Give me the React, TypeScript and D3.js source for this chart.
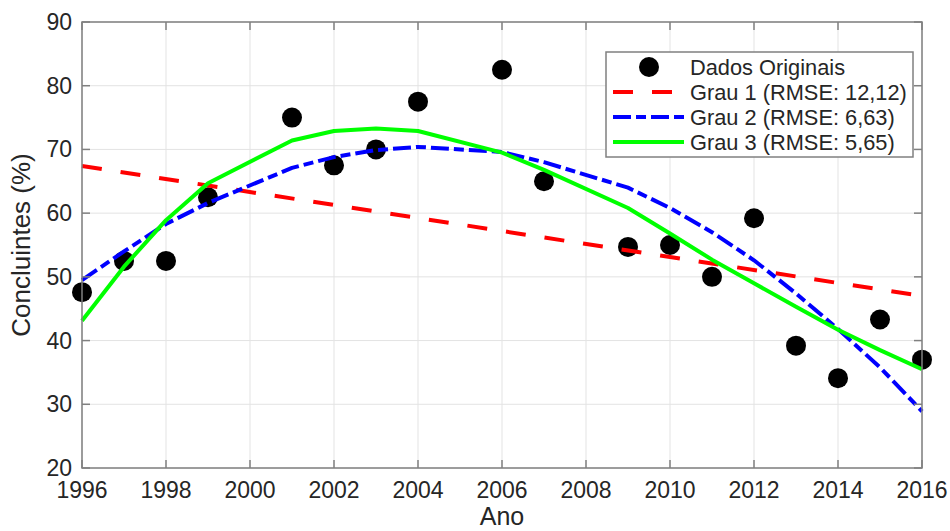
import React, { useEffect, useRef } from 'react';
import * as d3 from 'd3';

// dados
const years = [1996, 1997, 1998, 1999, 2001, 2002, 2003, 2004, 2006, 2007, 2009, 2010, 2011, 2012, 2013, 2014, 2015, 2016];
const concluintes = [47.6, 52.5, 52.5, 62.5, 75.0, 67.5, 70.0, 77.5, 82.5, 65.0, 54.7, 55.0, 50.0, 59.2, 39.2, 34.1, 43.3, 37.0];

// ajustes (valores nos anos dos dados)
const grau1Years = [1996, 2016];
const grau1 = [67.4, 47.0];
const grau2 = [49.5, 54.0, 58.3, 61.6, 67.1, 68.8, 69.9, 70.4, 69.6, 68.0, 64.0, 60.8, 57.0, 52.6, 47.4, 41.8, 35.8, 28.9];
const grau3 = [43.1, 51.6, 58.9, 64.7, 71.4, 72.9, 73.3, 72.9, 69.5, 66.8, 60.8, 56.8, 52.7, 49.0, 45.3, 41.7, 38.5, 35.5];

const legendLabels = ['Dados Originais', 'Grau 1 (RMSE: 12,12)', 'Grau 2 (RMSE: 6,63)', 'Grau 3 (RMSE: 5,65)'];
const xTicks = [1996, 1998, 2000, 2002, 2004, 2006, 2008, 2010, 2012, 2014, 2016];
const yTicks = [20, 30, 40, 50, 60, 70, 80, 90];

const width = 950;
const height = 531;
const margin = { top: 22, right: 28, bottom: 63, left: 82 };
const font = '"Liberation Sans", Arial, sans-serif';

const series = [
	{ label: legendLabels[1], xs: grau1Years, ys: grau1, color: '#ff0000', dash: '20 19' },
	{ label: legendLabels[2], xs: years, ys: grau2, color: '#0000ff', dash: '18 5 10 5' },
	{ label: legendLabels[3], xs: years, ys: grau3, color: '#00ff00', dash: null },
];

function Chart() {
	const ref = useRef<SVGSVGElement>(null);

	useEffect(() => {
		const svg = d3.select(ref.current);
		svg.selectAll('*').remove();

		const x = d3.scaleLinear().domain([1996, 2016]).range([margin.left, width - margin.right]);
		const y = d3.scaleLinear().domain([20, 90]).range([height - margin.bottom, margin.top]);
		const [x0, x1] = x.range();
		const [y0, y1] = y.range();

		// grid
		const grid = svg.append('g').attr('stroke', '#e3e3e3').attr('stroke-width', 1);
		grid.selectAll('.vg').data(xTicks).enter().append('line')
			.attr('x1', d => x(d)).attr('x2', d => x(d)).attr('y1', y0).attr('y2', y1);
		grid.selectAll('.hg').data(yTicks).enter().append('line')
			.attr('y1', d => y(d)).attr('y2', d => y(d)).attr('x1', x0).attr('x2', x1);

		// pontos
		svg.append('g').selectAll('circle').data(years).enter().append('circle')
			.attr('cx', d => x(d))
			.attr('cy', (d, i) => y(concluintes[i]))
			.attr('r', 10)
			.attr('fill', '#000');

		// curvas
		const line = d3.line<[number, number]>().x(d => x(d[0])).y(d => y(d[1]));
		series.forEach(s => {
			svg.append('path')
				.attr('d', line(s.xs.map((v, i) => [v, s.ys[i]] as [number, number])))
				.attr('fill', 'none')
				.attr('stroke', s.color)
				.attr('stroke-width', 4)
				.attr('stroke-dasharray', s.dash)
				.attr('stroke-linejoin', 'round');
		});

		// eixos (caixa + ticks para dentro)
		const axisColor = '#808080';
		const ax = svg.append('g').attr('stroke', axisColor).attr('stroke-width', 1.5);
		ax.append('rect').attr('x', x0).attr('y', y1).attr('width', x1 - x0).attr('height', y0 - y1).attr('fill', 'none');
		xTicks.forEach(t => {
			ax.append('line').attr('x1', x(t)).attr('x2', x(t)).attr('y1', y0).attr('y2', y0 - 8);
			ax.append('line').attr('x1', x(t)).attr('x2', x(t)).attr('y1', y1).attr('y2', y1 + 8);
		});
		yTicks.forEach(t => {
			ax.append('line').attr('y1', y(t)).attr('y2', y(t)).attr('x1', x0).attr('x2', x0 + 8);
			ax.append('line').attr('y1', y(t)).attr('y2', y(t)).attr('x1', x1).attr('x2', x1 - 8);
		});

		const txt = svg.append('g').attr('fill', '#262626').style('font-family', font);
		txt.selectAll('.xt').data(xTicks).enter().append('text')
			.attr('x', d => x(d)).attr('y', y0 + 30)
			.attr('text-anchor', 'middle')
			.style('font-size', '23px')
			.text(d => d);
		txt.selectAll('.yt').data(yTicks).enter().append('text')
			.attr('x', x0 - 10).attr('y', d => y(d) + 8)
			.attr('text-anchor', 'end')
			.style('font-size', '23px')
			.text(d => d);
		txt.append('text')
			.attr('x', (x0 + x1) / 2).attr('y', 525)
			.attr('text-anchor', 'middle')
			.style('font-size', '25px')
			.text('Ano');
		txt.append('text')
			.attr('transform', `translate(30,${(y0 + y1) / 2}) rotate(-90)`)
			.attr('text-anchor', 'middle')
			.style('font-size', '26px')
			.text('Concluintes (%)');

		// legenda
		const lg = svg.append('g');
		lg.append('rect')
			.attr('x', 606).attr('y', 52).attr('width', 307).attr('height', 105)
			.attr('fill', '#fff').attr('stroke', axisColor).attr('stroke-width', 1.5);
		const rowY = (i: number) => 67 + i * 25;
		lg.append('circle').attr('cx', 649).attr('cy', rowY(0)).attr('r', 10).attr('fill', '#000');
		series.forEach((s, i) => {
			lg.append('line')
				.attr('x1', 613).attr('x2', 684).attr('y1', rowY(i + 1)).attr('y2', rowY(i + 1))
				.attr('stroke', s.color).attr('stroke-width', 4)
				.attr('stroke-dasharray', s.dash);
		});
		lg.selectAll('text').data(legendLabels).enter().append('text')
			.attr('x', 690).attr('y', (d, i) => rowY(i) + 8)
			.attr('fill', '#262626')
			.style('font-family', font)
			.style('font-size', '21.8px')
			.text(d => d);
	}, []);

	return <svg ref={ref} width={width} height={height} style={{ display: 'block', background: '#fff' }} />;
}

export default function App() {
	return (
		<div style={{ position: 'absolute', left: 0, top: 0 }}>
			<Chart />
		</div>
	);
}
